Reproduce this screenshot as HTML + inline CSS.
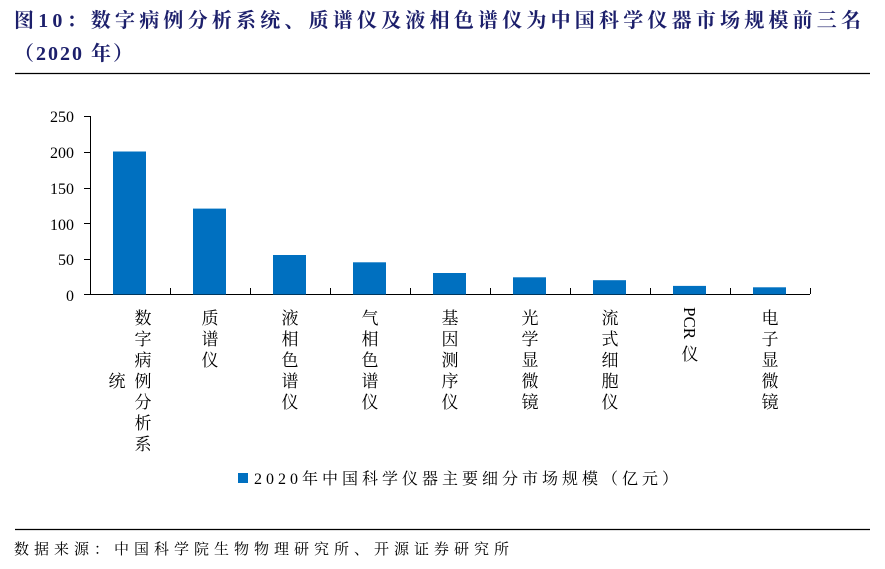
<!DOCTYPE html>
<html><head><meta charset="utf-8"><style>
body{margin:0;background:#fff;width:885px;height:564px;overflow:hidden}
svg text{font-family:"Liberation Serif","Noto Serif CJK SC",serif}
</style></head><body>
<svg width="885" height="564" xmlns="http://www.w3.org/2000/svg">
<text x="14" y="27" font-size="20" font-weight="bold" fill="#1c1f6b" letter-spacing="4.2">图10：数字病例分析系统、质谱仪及液相色谱仪为中国科学仪器市场规模前三名</text>
<text x="14" y="60" font-size="20" font-weight="bold" fill="#1c1f6b" letter-spacing="2">（2020 年）</text>
<line x1="15" y1="73.5" x2="870" y2="73.5" stroke="#000" stroke-width="1.2"/>
<line x1="15" y1="529.5" x2="870" y2="529.5" stroke="#000" stroke-width="1.2"/>
<text x="14" y="554" font-size="15" fill="#000" letter-spacing="5">数据来源：中国科学院生物物理研究所、开源证券研究所</text>
<g font-size="16" fill="#000" text-anchor="end">
<text x="74" y="122">250</text><text x="74" y="158">200</text><text x="74" y="194">150</text>
<text x="74" y="230">100</text><text x="74" y="265">50</text><text x="74" y="301">0</text>
</g>
<g stroke="#000" stroke-width="1">
<line x1="90.5" y1="116" x2="90.5" y2="295"/>
<line x1="84" y1="116.5" x2="90" y2="116.5"/><line x1="84" y1="152.5" x2="90" y2="152.5"/>
<line x1="84" y1="188.5" x2="90" y2="188.5"/><line x1="84" y1="223.5" x2="90" y2="223.5"/>
<line x1="84" y1="259.5" x2="90" y2="259.5"/><line x1="84" y1="294.5" x2="90" y2="294.5"/>
<line x1="90" y1="294.5" x2="810" y2="294.5"/>
<line x1="170.5" y1="288" x2="170.5" y2="294"/><line x1="250.5" y1="288" x2="250.5" y2="294"/>
<line x1="330.5" y1="288" x2="330.5" y2="294"/><line x1="410.5" y1="288" x2="410.5" y2="294"/>
<line x1="490.5" y1="288" x2="490.5" y2="294"/><line x1="570.5" y1="288" x2="570.5" y2="294"/>
<line x1="650.5" y1="288" x2="650.5" y2="294"/><line x1="730.5" y1="288" x2="730.5" y2="294"/>
<line x1="810.5" y1="288" x2="810.5" y2="294"/>
</g>
<g fill="#0070c0">
<rect x="113" y="151.5" width="33" height="143"/>
<rect x="193" y="208.6" width="33" height="85.9"/>
<rect x="273" y="255" width="33" height="39.5"/>
<rect x="353" y="262.3" width="33" height="32.2"/>
<rect x="433" y="273" width="33" height="21.5"/>
<rect x="513" y="277.3" width="33" height="17.2"/>
<rect x="593" y="280.2" width="33" height="14.3"/>
<rect x="673" y="285.9" width="33" height="8.6"/>
<rect x="753" y="287.3" width="33" height="7.2"/>
</g>
<g font-size="17" fill="#000" text-anchor="middle">
<text x="143" y="324">数</text><text x="143" y="345">字</text><text x="143" y="366">病</text><text x="143" y="387">例</text><text x="143" y="408">分</text><text x="143" y="429">析</text><text x="143" y="450">系</text>
<text x="117" y="387">统</text>
<text x="210" y="324">质</text><text x="210" y="345">谱</text><text x="210" y="366">仪</text>
<text x="290" y="324">液</text><text x="290" y="345">相</text><text x="290" y="366">色</text><text x="290" y="387">谱</text><text x="290" y="408">仪</text>
<text x="370" y="324">气</text><text x="370" y="345">相</text><text x="370" y="366">色</text><text x="370" y="387">谱</text><text x="370" y="408">仪</text>
<text x="450" y="324">基</text><text x="450" y="345">因</text><text x="450" y="366">测</text><text x="450" y="387">序</text><text x="450" y="408">仪</text>
<text x="530" y="324">光</text><text x="530" y="345">学</text><text x="530" y="366">显</text><text x="530" y="387">微</text><text x="530" y="408">镜</text>
<text x="610" y="324">流</text><text x="610" y="345">式</text><text x="610" y="366">细</text><text x="610" y="387">胞</text><text x="610" y="408">仪</text>
<text transform="translate(684,307) rotate(90)" text-anchor="start" font-size="17">PCR</text><text x="690" y="360">仪</text>
<text x="770" y="324">电</text><text x="770" y="345">子</text><text x="770" y="366">显</text><text x="770" y="387">微</text><text x="770" y="408">镜</text>
</g>
<rect x="238" y="473" width="10" height="10" fill="#0070c0"/>
<text x="254" y="484" font-size="16" fill="#000" letter-spacing="4">2020年中国科学仪器主要细分市场规模（亿元）</text>
</svg>
</body></html>
